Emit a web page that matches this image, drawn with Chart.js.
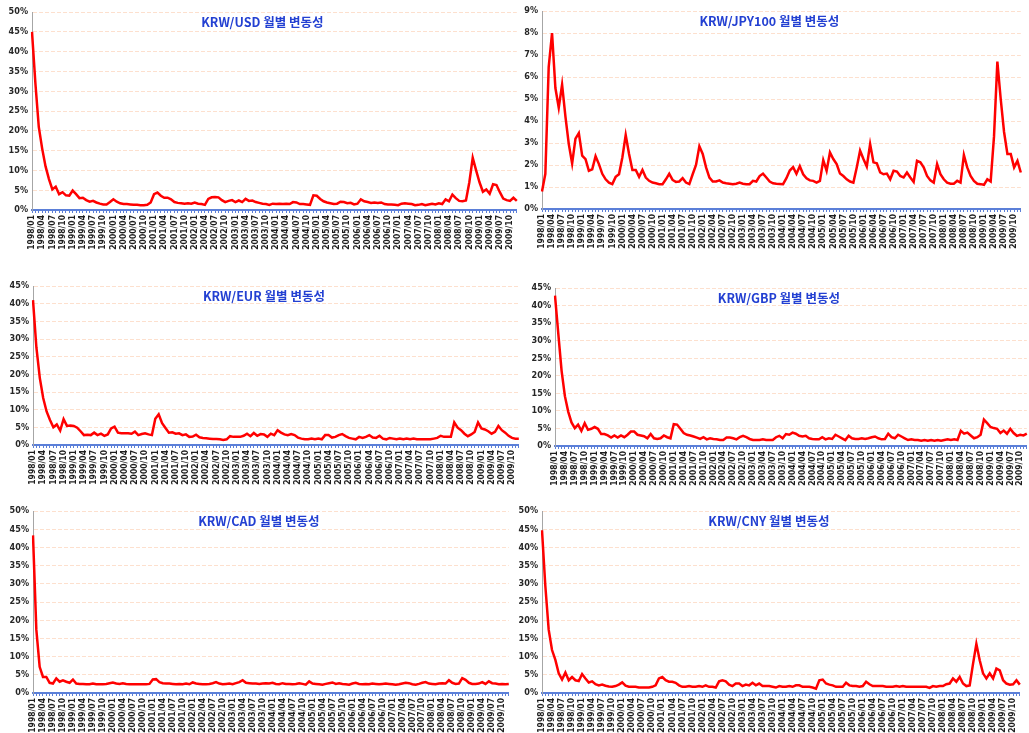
<!DOCTYPE html>
<html>
<head>
<meta charset="utf-8">
<title>월별 변동성</title>
<script src="https://cdn.jsdelivr.net/npm/chart.js@4.4.0/dist/chart.umd.min.js"></script>
<style>
html, body { margin: 0; padding: 0; background: #fff; overflow: hidden; }
.panel { position: absolute; }
</style>
</head>
<body>
<div class="panel" id="p0"><canvas id="c0"></canvas></div>
<div class="panel" id="p1"><canvas id="c1"></canvas></div>
<div class="panel" id="p2"><canvas id="c2"></canvas></div>
<div class="panel" id="p3"><canvas id="c3"></canvas></div>
<div class="panel" id="p4"><canvas id="c4"></canvas></div>
<div class="panel" id="p5"><canvas id="c5"></canvas></div>
<script>
// monthly categories 1998/01 .. 2009/12, labelled every quarter
const years = [1998, 1999, 2000, 2001, 2002, 2003, 2004, 2005, 2006, 2007, 2008, 2009];
const monthNums = ['01','02','03','04','05','06','07','08','09','10','11','12'];
const quarterMonths = ['01', '04', '07', '10'];
const months = [];
years.forEach(y => monthNums.forEach(m => months.push(y + '/' + m)));

// monthly volatility, %
const usdVol = [45,32,21,15.5,11,7.8,5.2,5.9,4.0,4.5,3.7,3.6,4.9,4.0,3.0,3.1,2.5,2.1,2.3,1.9,
  1.6,1.4,1.4,2.0,2.7,2.1,1.7,1.5,1.5,1.4,1.3,1.3,1.2,1.2,1.3,1.9,4.0,4.4,3.6,3.1,
  3.1,2.7,2.0,1.8,1.7,1.6,1.7,1.6,1.9,1.6,1.5,1.3,2.8,3.2,3.3,3.2,2.5,2.0,2.3,2.5,
  2.0,2.4,2.0,2.8,2.3,2.4,2.0,1.8,1.6,1.5,1.3,1.6,1.5,1.6,1.5,1.6,1.5,2.0,1.9,1.5,
  1.5,1.4,1.3,3.7,3.6,2.8,2.2,1.9,1.7,1.5,1.6,2.1,2.0,1.7,1.8,1.4,1.6,2.7,2.2,2.0,
  1.8,1.9,1.8,1.9,1.5,1.4,1.4,1.3,1.2,1.6,1.7,1.6,1.5,1.2,1.3,1.5,1.2,1.4,1.6,1.4,
  1.7,1.5,2.7,2.2,3.9,3.0,2.3,2.2,2.4,7.0,13.2,10,7,4.6,5.2,4.1,6.5,6.3,4.5,2.9,
  2.5,2.3,3.1,2.3];
const jpyVol = [0.8,1.6,6.45,8.0,5.5,4.6,5.65,4.2,2.95,2.07,3.2,3.45,2.42,2.27,1.74,1.8,2.4,2.04,1.6,1.35,
  1.2,1.13,1.46,1.58,2.34,3.36,2.5,1.77,1.77,1.46,1.77,1.43,1.28,1.2,1.17,1.13,1.13,1.35,1.6,1.32,
  1.23,1.25,1.4,1.2,1.13,1.58,2.0,2.85,2.5,1.89,1.43,1.25,1.25,1.3,1.2,1.17,1.15,1.13,1.15,1.2,
  1.15,1.13,1.13,1.28,1.25,1.5,1.61,1.43,1.25,1.17,1.15,1.14,1.13,1.4,1.75,1.9,1.6,1.95,1.58,1.4,
  1.3,1.28,1.2,1.28,2.22,1.74,2.57,2.27,2.04,1.61,1.5,1.35,1.25,1.2,1.89,2.65,2.27,1.93,2.95,2.12,
  2.08,1.66,1.58,1.61,1.35,1.74,1.7,1.5,1.43,1.66,1.43,1.23,2.19,2.12,1.89,1.5,1.3,1.2,2.04,1.58,
  1.35,1.2,1.15,1.15,1.28,1.2,2.45,1.89,1.5,1.28,1.15,1.13,1.1,1.35,1.25,3.3,6.7,5.0,3.5,2.5,
  2.5,1.89,2.19,1.66];
const eurVol = [41,27.6,19,13.3,9.5,7.1,5.0,5.8,4.1,7.3,5.4,5.5,5.4,4.9,3.9,2.8,2.9,2.8,3.5,2.8,
  3.2,2.6,3.0,4.7,5.2,3.5,3.3,3.3,3.3,3.2,3.8,2.8,3.1,3.3,3.0,2.8,7.4,8.7,6.2,4.8,
  3.5,3.6,3.2,3.3,2.8,3.0,2.3,2.4,2.9,2.2,2.0,1.9,1.8,1.7,1.7,1.6,1.4,1.6,2.5,2.3,
  2.3,2.3,2.6,3.2,2.5,3.4,2.6,3.1,3.0,2.3,3.2,2.8,4.2,3.5,3.0,2.8,3.1,2.8,2.1,1.8,
  1.6,1.6,1.8,1.6,1.8,1.6,2.8,2.8,2.1,2.3,2.8,3.1,2.5,2.0,1.8,1.6,2.3,2.0,2.3,2.8,
  2.1,2.0,2.6,1.8,1.6,2.0,1.8,1.6,1.8,1.6,1.8,1.6,1.8,1.6,1.6,1.6,1.6,1.6,1.8,2.0,
  2.6,2.3,2.3,2.3,6.4,4.9,4.2,3.2,2.5,3.0,3.7,6.4,4.7,4.4,3.9,3.2,3.7,5.4,4.2,3.5,
  2.6,2.0,1.8,1.8];
const gbpVol = [42.8,32,21.4,14.2,9.8,6.7,5.1,6.1,4.3,6.5,4.6,4.9,5.4,4.9,3.4,3.4,3.0,2.4,3.0,2.4,
  3.0,2.5,3.2,4.1,4.1,3.2,3.0,2.8,2.2,3.4,2.2,2.0,2.2,3.0,2.5,2.2,6.2,6.1,4.9,3.7,
  3.2,3.0,2.7,2.4,2.0,2.5,1.9,2.2,2.0,1.9,1.7,1.7,2.4,2.4,2.2,1.9,2.5,2.9,2.5,2.0,
  1.7,1.7,1.7,1.9,1.7,1.7,1.7,2.5,2.9,2.2,3.4,3.2,3.8,3.5,2.9,2.7,2.9,2.2,2.0,1.9,
  1.9,2.5,1.9,2.2,2.0,3.2,2.7,2.2,1.7,2.9,2.2,2.0,2.0,2.2,2.0,2.2,2.5,2.7,2.2,1.9,
  2.0,3.5,2.5,2.2,3.2,2.7,2.2,1.7,1.9,1.7,1.7,1.5,1.7,1.5,1.7,1.5,1.7,1.5,1.7,1.9,
  1.7,1.9,1.7,4.3,3.5,3.8,3.0,2.2,2.5,3.2,7.5,6.5,5.4,5.1,4.9,3.7,4.4,3.5,4.9,3.7,
  2.9,3.2,3.0,3.5];
const cadVol = [43.3,17.4,7.2,4.4,4.4,2.8,2.6,4.0,3.1,3.5,3.1,2.8,3.7,2.6,2.5,2.5,2.4,2.4,2.6,2.4,
  2.4,2.4,2.5,2.7,2.9,2.6,2.5,2.7,2.5,2.4,2.4,2.4,2.4,2.4,2.4,2.5,3.7,3.8,3.0,2.7,
  2.6,2.6,2.5,2.4,2.5,2.4,2.6,2.4,2.9,2.6,2.5,2.4,2.4,2.5,2.7,3.0,2.6,2.4,2.5,2.6,
  2.4,2.7,3.0,3.5,2.8,2.7,2.6,2.6,2.5,2.6,2.7,2.6,2.8,2.5,2.4,2.7,2.5,2.5,2.4,2.5,
  2.7,2.5,2.3,3.2,2.6,2.5,2.4,2.3,2.5,2.7,2.9,2.5,2.7,2.5,2.4,2.3,2.6,2.8,2.5,2.4,
  2.5,2.4,2.6,2.5,2.4,2.5,2.6,2.5,2.4,2.3,2.4,2.6,2.8,2.7,2.4,2.3,2.5,2.8,3.0,2.6,
  2.5,2.4,2.6,2.7,2.6,3.5,2.8,2.5,2.6,4.1,3.6,2.8,2.5,2.5,2.6,3.0,2.5,3.2,2.7,2.6,
  2.4,2.5,2.4,2.5];
const cnyVol = [44.7,29.4,17.4,11.8,9.1,5.4,3.7,5.6,3.5,4.4,3.5,3.3,5.2,4.0,2.9,3.2,2.4,2.1,2.3,2.0,
  1.8,1.7,1.9,2.3,2.9,2.0,1.7,1.7,1.7,1.5,1.5,1.5,1.5,1.7,2.1,4.0,4.4,3.5,3.1,3.1,
  2.8,2.1,1.7,1.7,1.9,1.7,1.7,1.9,1.7,2.1,1.7,1.7,1.5,3.2,3.5,3.2,2.3,1.9,2.6,2.6,
  1.9,2.3,2.1,2.8,2.1,2.6,1.9,1.9,1.9,1.7,1.5,1.9,1.7,1.7,1.9,1.7,2.1,2.1,1.7,1.7,
  1.7,1.5,1.2,3.5,3.7,2.6,2.3,2.1,1.7,1.7,1.7,2.8,2.1,1.9,1.9,1.7,1.9,3.1,2.4,1.9,
  1.9,1.9,1.9,1.7,1.7,1.7,1.9,1.7,1.9,1.7,1.7,1.7,1.7,1.7,1.7,1.7,1.4,1.9,1.7,1.9,
  1.9,2.4,2.6,4.0,3.1,4.4,2.6,1.9,2.1,8.0,13.5,9.0,5.4,4.0,5.4,4.0,6.7,6.2,3.5,2.6,
  2.3,2.4,3.5,2.3];

const titles = ['KRW/USD 월별 변동성', 'KRW/JPY100 월별 변동성', 'KRW/EUR 월별 변동성',
  'KRW/GBP 월별 변동성', 'KRW/CAD 월별 변동성', 'KRW/CNY 월별 변동성'];
const series = [usdVol, jpyVol, eurVol, gbpVol, cadVol, cnyVol];
const yMax = [50, 9, 45, 45, 50, 50];
const yStep = [5, 1, 5, 5, 5, 5];

// panel boxes: left, top, width, height
const boxes = [
  [0, 2, 529, 248],
  [510, 1, 523, 248],
  [1, 276, 530, 209],
  [523, 278, 516, 208],
  [1, 501, 520, 232],
  [510, 501, 522, 232]
];

const narrow = '"Liberation Sans Narrow", "DejaVu Sans Condensed", sans-serif';
Chart.defaults.font.family = narrow;
Chart.defaults.color = '#262626';

// title written inside the plot area, near the top
const innerTitle = {
  id: 'innerTitle',
  afterDraw(chart, args, opts) {
    const ctx = chart.ctx;
    const a = chart.chartArea;
    ctx.save();
    ctx.font = 'bold 12.5px "Liberation Sans Narrow", "Noto Sans CJK KR", sans-serif';
    ctx.fillStyle = '#2340d2';
    ctx.textAlign = 'center';
    ctx.textBaseline = 'middle';
    ctx.fillText(opts.text, (a.left + a.right) / 2 - 12, a.top + 10);
    ctx.restore();
  }
};

series.forEach((vals, k) => {
  const b = boxes[k];
  const p = document.getElementById('p' + k);
  p.style.left = b[0] + 'px';
  p.style.top = b[1] + 'px';
  p.style.width = b[2] + 'px';
  p.style.height = b[3] + 'px';

  new Chart(document.getElementById('c' + k), {
    type: 'line',
    data: {
      labels: months,
      datasets: [{
        data: vals,
        borderColor: '#ff0000',
        borderWidth: 2.5,
        pointRadius: 0,
        tension: 0,
        fill: false
      }]
    },
    plugins: [innerTitle],
    options: {
      responsive: true,
      maintainAspectRatio: false,
      animation: false,
      layout: { padding: { top: 10, right: 0, left: 0, bottom: 0 } },
      plugins: {
        legend: { display: false },
        tooltip: { enabled: false },
        innerTitle: { text: titles[k] }
      },
      scales: {
        x: {
          afterFit(scale) { scale.height = 40; },
          grid: {
            drawOnChartArea: false,
            drawTicks: true,
            tickLength: 3,
            tickColor: '#5b7fd8',
            tickWidth: 1
          },
          border: { color: '#5b7fd8', width: 2 },
          ticks: {
            autoSkip: false,
            minRotation: 90,
            maxRotation: 90,
            padding: 2,
            font: { size: 8.5, weight: 'bold' },
            color: '#1e1e1e',
            callback(value) {
              const lab = this.getLabelForValue(value);
              return quarterMonths.includes(lab.slice(5)) ? lab : '';
            }
          }
        },
        y: {
          min: 0,
          max: yMax[k],
          afterFit(scale) { scale.width = 32; },
          grid: {
            color: '#fde0ce',
            lineWidth: 1,
            drawTicks: false
          },
          border: { color: '#a6a6a6', width: 1, dash: [4, 2] },
          ticks: {
            stepSize: yStep[k],
            padding: 4,
            font: { size: 9, weight: 'bold' },
            color: '#262626',
            callback: v => v + '%'
          }
        }
      }
    }
  });
});
</script>
</body>
</html>
